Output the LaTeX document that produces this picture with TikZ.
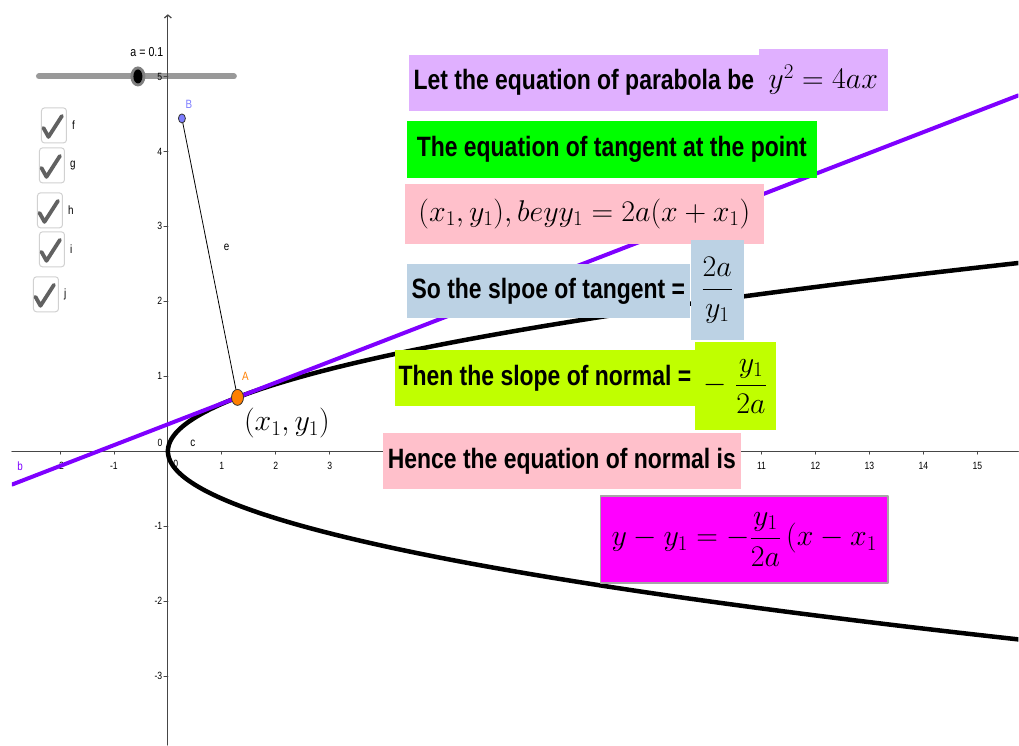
\RequirePackage{fix-cm}
\documentclass[tikz,border=0pt]{standalone}
\usepackage{amsmath}
\usepackage{fontspec}
\newfontfamily\ggbfont{Liberation Sans}
\usepackage{tikz}
\usetikzlibrary{
    arrows.meta,
    calc,
    shapes.geometric
}
\definecolor{lilac}{RGB}{224,176,255}
\definecolor{ggbgreen}{RGB}{0,255,0}
\definecolor{rosa}{RGB}{255,192,203}
\definecolor{steel}{RGB}{188,210,228}
\definecolor{ggblime}{RGB}{192,255,0}
\definecolor{fuchsia}{RGB}{255,0,255}
\definecolor{ggbviolet}{RGB}{127,0,255}
\definecolor{ggborange}{RGB}{255,127,0}
\definecolor{ggbblue}{RGB}{125,125,255}
\definecolor{axisgray}{RGB}{70,70,70}
\newcommand\nrw[1]{\scalebox{0.82}[1]{#1}}

\begin{document}
\begin{tikzpicture}[x={(54pt,0pt)},y={(0pt,75pt)},line cap=round,line join=round,
  screen/.style={shift={(-168pt,451pt)},x=1pt,y=-1pt},
  txtbox/.style={anchor=north west,inner sep=0pt,
    font=\ggbfont\bfseries\fontsize{28}{30}\selectfont},
  mathbox/.style={anchor=north west,inner sep=0pt,
    font=\fontsize{30}{34}\selectfont},
  small/.style={inner sep=0pt,font=\ggbfont\fontsize{10.5}{12}\selectfont},
  chkbox/.style={draw=black!18,rounded corners=3pt,line width=1pt,
    minimum width=25pt,minimum height=35pt,inner sep=0pt,anchor=north west},
  ggbpoint/.style={ellipse,draw=black!80,line width=0.8pt,inner sep=0pt},
  axis/.style={axisgray,line width=1.2pt}]
\def\a{0.1}    % slider value
\def\xa{1.29}  % abscissa of A
\pgfmathsetmacro\ya{sqrt(4*\a*\xa)}
\def\xl{-2.889} \def\xr{15.76}
% screen part (pixels from the top left corner)
\begin{scope}[screen]
  \fill[white] (0,0) rectangle (1019,745);
  \useasboundingbox (0,0) rectangle (1019,745);
  % slider a
  \draw[line width=6pt,black!40] (39,76) -- (234,76);
  \node[ellipse,fill=black!50,minimum width=15pt,minimum height=20pt,inner sep=0pt] (halo) at (138,76) {};
  \node[ellipse,fill=black,minimum width=9pt,minimum height=14pt,inner sep=0pt] (knob) at (138,76) {};
  \node[inner sep=0pt,font=\ggbfont\fontsize{13}{15}\selectfont] (aval) at (147,52) {\nrw{a = 0.1}};
  % check boxes
  \foreach \n/\bx/\by in {f/41/107,g/39/147,h/37/192,i/39/231,j/33/276}
  {%
    \node[chkbox] (box\n) at (\bx,\by) {};
    \draw[line width=3.8pt,black!62]
      ($(box\n.north west)+(2.5,20.5)$) -- ($(box\n.north west)+(7.5,29.5)$)
      -- ($(box\n.north west)+(21,8.5)$);
    \node[inner sep=0pt,anchor=west,font=\ggbfont\fontsize{12}{14}\selectfont]
      (lab\n) at ([xshift=5pt]box\n.east) {\nrw{\n}};
  }
\end{scope}
% axes
\draw[axis] (\xl,0) -- (\xr,0);
\draw[axis,-{Straight Barb[length=3pt,width=7pt]}] (0,-3.92) -- (0,5.83);
\foreach \i in {-2,-1,1,2,...,15}
  \draw[axis,line width=0.8pt] (\i,0) -- ++(0,-3pt);
% labels 4 to 10 lie under the last pink box
\foreach \i in {-2,-1,1,2,3,11,12,...,15}
  \node[small,yshift=-15pt] (xt\i) at (\i,0) {\nrw{\i}};
\foreach \j in {-3,-2,-1,1,2,3,4,5}
{%
  \draw[axis,line width=0.8pt] (0,\j) -- ++(-4pt,0);
  \node[small,anchor=east,xshift=-5.5pt] (yt\j) at (0,\j) {\nrw{\j}};
}
\node[small,xshift=-8pt,yshift=8pt] (zero) at (0,0) {\nrw{0}};
\node[small,xshift=8pt,yshift=-13pt] (zerox) at (0,0) {\nrw{0}};
% parabola y^2=4ax and tangent at A
\begin{scope}
  \clip (\xl,-3.92) rectangle (\xr,6.02);
  \draw[line width=4.5pt] plot[domain=-2.7:2.7,samples=90,smooth] ({\x*\x/(4*\a)},\x);
  \draw[ggbviolet,line width=4pt] (\xl,{2*\a*(\xl+\xa)/\ya}) -- (\xr,{2*\a*(\xr+\xa)/\ya});
\end{scope}
% segment e and points
\coordinate (pB) at (0.26,4.44);
\coordinate (pA) at (\xa,\ya);
\draw[line width=0.8pt] (pB) -- (pA);
\node[ggbpoint,fill=ggbblue,minimum width=7pt,minimum height=9pt] (B) at (pB) {};
\node[ggbpoint,fill=ggborange,minimum width=12pt,minimum height=16pt] (A) at (pA) {};
\node[small,text=ggborange,font=\ggbfont\fontsize{12}{14}\selectfont,xshift=8pt,yshift=21pt] (labA) at (pA) {\nrw{A}};
\node[small,text=ggbblue,font=\ggbfont\fontsize{12}{14}\selectfont,xshift=7pt,yshift=14pt] (labB) at (pB) {\nrw{B}};
\node[small,font=\ggbfont\fontsize{12}{14}\selectfont] (labe) at (1.09,2.72) {\nrw{e}};
\node[small,font=\ggbfont\fontsize{12}{14}\selectfont] (labc) at (0.46,0.107) {\nrw{c}};
\node[small,text=ggbviolet,font=\ggbfont\fontsize{12}{14}\selectfont] (labb) at (-2.74,-0.2) {\nrw{b}};
\node[inner sep=0pt,font=\fontsize{30}{34}\selectfont] (xy) at (2.204,0.373) {$(x_1,y_1)$};
% text boxes
\begin{scope}[screen]
  \node[txtbox,fill=lilac,minimum width=350pt,minimum height=56pt] (parab) at (409,54)
    {\nrw{Let the equation of parabola be}};
  \node[mathbox,fill=lilac,minimum width=129pt,minimum height=62pt] (parabeq) at (759,48)
    {$y^2=4ax$};
  \node[txtbox,fill=ggbgreen,minimum width=410pt,minimum height=57pt] (tang) at (407,120)
    {\nrw{The equation of tangent at the point}};
  \node[mathbox,fill=rosa,minimum width=359pt,minimum height=60pt] (tangeq) at (405,183)
    {$(x_1,y_1),beyy_1=2a(x+x_1)$};
  \node[txtbox,fill=steel,minimum width=283pt,minimum height=55pt] (slope) at (407,263)
    {\nrw{So the slpoe of tangent =}};
  \node[mathbox,fill=steel,minimum width=53pt,minimum height=101pt] (slopefr) at (691,239)
    {$\dfrac{2a}{y_1}$};
  \node[txtbox,fill=ggblime,minimum width=300pt,minimum height=56pt] (normal) at (395,350)
    {\nrw{Then the slope of normal =}};
  \node[mathbox,fill=ggblime,minimum width=81pt,minimum height=88pt] (normfr) at (695,342)
    {$-\;\dfrac{y_1}{2a}$};
  \node[txtbox,fill=rosa,minimum width=358pt,minimum height=56pt] (hence) at (383,433)
    {\nrw{Hence the equation of normal is}};
  \node[mathbox,fill=fuchsia,draw=black!35,line width=1.5pt,minimum width=288pt,
    minimum height=87pt] (normeq) at (600,495)
    {$y-y_1=-\dfrac{y_1}{2a}\,(x-x_1$};
\end{scope}
\end{tikzpicture}
\end{document}
